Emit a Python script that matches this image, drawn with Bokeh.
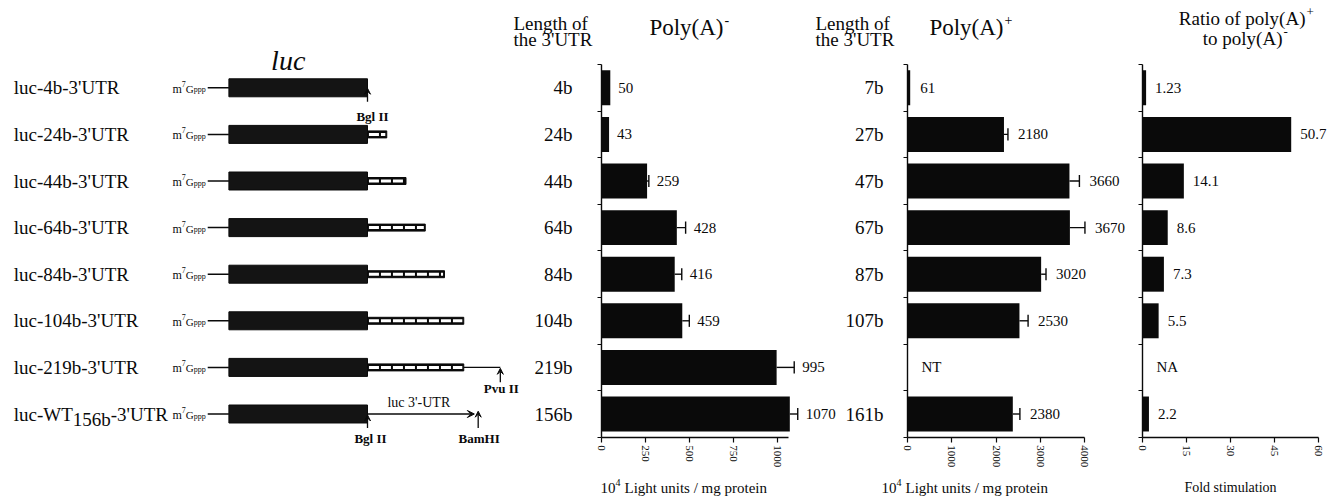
import math
from bokeh.plotting import figure
from bokeh.models import Range1d, LinearAxis, FixedTicker, ColumnDataSource, Arrow, VeeHead
from bokeh.core.properties import value
from bokeh.embed import file_html
from bokeh.resources import INLINE

# ---------------- data ----------------
construct_names = ["luc-4b-3'UTR", "luc-24b-3'UTR", "luc-44b-3'UTR", "luc-64b-3'UTR",
                   "luc-84b-3'UTR", "luc-104b-3'UTR", "luc-219b-3'UTR"]
wt_name_parts = ["luc-WT", "156b", "-3'UTR"]
utr_box_bases = [4, 24, 44, 64, 84, 104, 104]   # schematic 3'UTR box end (bases)
minus_lengths = ["4b", "24b", "44b", "64b", "84b", "104b", "219b", "156b"]
plus_lengths = ["7b", "27b", "47b", "67b", "87b", "107b", "", "161b"]
polyA_minus = [50, 43, 259, 428, 416, 459, 995, 1070]
polyA_minus_err = [0, 0, 10, 50, 40, 40, 100, 45]
polyA_plus = [61, 2180, 3660, 3670, 3020, 2530, None, 2380]
polyA_plus_err = [0, 90, 225, 340, 110, 195, None, 160]
ratio = [1.23, 50.7, 14.1, 8.6, 7.3, 5.5, None, 2.2]
ratio_labels = ["1.23", "50.7", "14.1", "8.6", "7.3", "5.5", "NA", "2.2"]
minus_ticks = [0, 250, 500, 750, 1000]
plus_ticks = [0, 1000, 2000, 3000, 4000]
ratio_ticks = [0, 15, 30, 45, 60]

# ---------------- layout ----------------
W, H, M = 1330, 496, 0
ROW0, ROWH = 64.0, 46.6
NROW = 8
FONT = "Liberation Serif"
INK = "#0a0a0a"


def rows(page_y):
    return (page_y - ROW0) / ROWH


def xrange_for(origin, ppu):
    return Range1d(start=(M - origin) / ppu, end=(M + W - origin) / ppu)


PANELS = {"diag": (363.15, 0.9625), "minus": (601.0, 0.176),
          "plus": (907.0, 0.04425), "ratio": (1142.0, 2.933)}

p = figure(width=W, height=H, x_range=xrange_for(*PANELS["diag"]),
           y_range=Range1d(start=rows(M + H), end=rows(M)),
           output_backend="svg", toolbar_location=None,
           x_axis_location=None, y_axis_location=None, min_border=0,
           outline_line_color=None, background_fill_color="white",
           border_fill_color="white")
p.extra_x_ranges = {k: xrange_for(*PANELS[k]) for k in ("minus", "plus", "ratio")}
p.xgrid.visible = False
p.ygrid.visible = False

yc = [i + 0.5 for i in range(NROW)]


def txt(x, y, s, size, xr="default", align="left", xoff=0, style="normal", baseline="middle"):
    n = max(len(v) if isinstance(v, list) else 1 for v in (x, y, s))
    xs = x if isinstance(x, list) and len(x) == n else [x[0] if isinstance(x, list) else x] * n
    ys = y if isinstance(y, list) and len(y) == n else [y[0] if isinstance(y, list) else y] * n
    ss = s if isinstance(s, list) and len(s) == n else [s[0] if isinstance(s, list) else s] * n
    p.text(x=xs, y=ys, text=ss, x_range_name=xr, text_font=value(FONT),
           text_font_size=f"{size}px", text_align=align, text_baseline=baseline,
           x_offset=xoff, text_font_style=style, text_color=INK)


def add_axes(name, ticks, xmax):
    xa = LinearAxis(x_range_name=name, fixed_location=NROW, bounds=(0, xmax),
                    ticker=FixedTicker(ticks=ticks), major_tick_in=0, major_tick_out=5,
                    minor_tick_line_color=None, axis_line_width=1.4, axis_line_color=INK,
                    major_tick_line_width=1.2, major_tick_line_color=INK,
                    major_label_orientation=-math.pi / 2, major_label_text_font=FONT,
                    major_label_text_font_size="11px", major_label_standoff=3,
                    major_label_text_color=INK)
    p.add_layout(xa, "below")
    ya = LinearAxis(x_range_name=name, fixed_location=0, bounds=(0, NROW),
                    ticker=FixedTicker(ticks=list(range(NROW + 1))), major_tick_in=0,
                    major_tick_out=4, minor_tick_line_color=None, axis_line_width=1.4,
                    axis_line_color=INK, major_tick_line_width=1.2, major_tick_line_color=INK,
                    major_label_overrides={i: "" for i in range(NROW + 1)})
    p.add_layout(ya, "left")


def add_bars(name, vals, errs, labels, lab_off):
    keep = [i for i, v in enumerate(vals) if v is not None]
    src = ColumnDataSource(dict(
        y=[yc[i] for i in keep], v=[vals[i] for i in keep],
        cap=[vals[i] + (errs[i] or 0) for i in keep],
        lo=[yc[i] - 0.13 for i in keep], hi=[yc[i] + 0.13 for i in keep],
        lab=[labels[i] for i in keep]))
    p.hbar(y="y", left=0, right="v", height=0.75, source=src, x_range_name=name,
           fill_color=INK, line_color=None)
    if any(errs[i] for i in keep):
        esrc = ColumnDataSource({k: [c for c, i in zip(src.data[k], keep) if errs[i]]
                                 for k in ("y", "v", "cap", "lo", "hi")})
        p.segment(x0="v", y0="y", x1="cap", y1="y", source=esrc, x_range_name=name,
                  line_color=INK, line_width=1.4)
        p.segment(x0="cap", y0="lo", x1="cap", y1="hi", source=esrc, x_range_name=name,
                  line_color=INK, line_width=1.4)
    p.text(x="cap", y="y", text="lab", source=src, x_range_name=name,
           text_font=value(FONT), text_font_size="15px", text_baseline="middle",
           x_offset=lab_off, text_color=INK)


# ---------------- diagram ----------------
CDS_START, BGL_SITE, CAP_START = -140, 4, -162
PVU_SITE, BAM_SITE = 142, 119

txt((CDS_START + BGL_SITE) / 2, rows(60), "luc", 28, align="center", xoff=-10, style="italic")

txt(CAP_START, yc[:7], construct_names, 19, xoff=-194)
txt(CAP_START, yc[7], wt_name_parts[0], 19, xoff=-194)
txt(CAP_START, yc[7] + 5 / ROWH, wt_name_parts[1], 19, xoff=-194 + 59)
txt(CAP_START, yc[7], wt_name_parts[2], 19, xoff=-194 + 97)

# m7Gppp cap labels
txt(CAP_START, [y + 1 / ROWH for y in yc], "m", 12, align="right", xoff=-26)
txt(CAP_START, [y - 4 / ROWH for y in yc], "7", 8, align="right", xoff=-22)
txt(CAP_START, [y + 1 / ROWH for y in yc], "G", 11, align="right", xoff=-14)
txt(CAP_START, [y + 2 / ROWH for y in yc], "ppp", 8, align="right", xoff=-2)

p.segment(x0=CAP_START, y0=yc, x1=CDS_START, y1=yc, line_color=INK, line_width=1.5)
p.quad(left=CDS_START, right=BGL_SITE, top=[y - 0.193 for y in yc],
       bottom=[y + 0.193 for y in yc], fill_color="#141414", line_color=INK, line_width=1)

utr_rows = [i for i, L in enumerate(utr_box_bases) if L > BGL_SITE]
p.quad(left=BGL_SITE, right=[utr_box_bases[i] for i in utr_rows],
       top=[yc[i] - 0.075 for i in utr_rows], bottom=[yc[i] + 0.075 for i in utr_rows],
       fill_color=INK, line_color=INK, line_width=1)
p.segment(x0=BGL_SITE + 1.5, y0=[yc[i] for i in utr_rows],
          x1=[utr_box_bases[i] - 1.5 for i in utr_rows], y1=[yc[i] for i in utr_rows],
          line_color="white", line_width=3, line_dash="10 2")

# 219b: line to Pvu II
p.segment(x0=utr_box_bases[6], y0=yc[6], x1=PVU_SITE, y1=yc[6], line_color=INK, line_width=1.2)


def arrow(x0, y0, x1, y1, size=6):
    p.add_layout(Arrow(end=VeeHead(size=size, line_color=INK, fill_color=INK, line_width=1),
                       x_start=x0, y_start=y0, x_end=x1, y_end=y1,
                       line_color=INK, line_width=1.3))


arrow(BGL_SITE, yc[0] + 0.3, BGL_SITE, yc[0] + 0.01)
txt(BGL_SITE, yc[0] + 0.62, "Bgl II", 13, align="center", xoff=5, style="bold")
arrow(PVU_SITE, yc[6] + 0.32, PVU_SITE, yc[6] + 0.02)
txt(PVU_SITE, yc[6] + 0.45, "Pvu II", 13, align="center", xoff=1, style="bold")

arrow(BGL_SITE, yc[7], BAM_SITE - 4, yc[7], size=7)
arrow(BGL_SITE, yc[7] + 0.3, BGL_SITE, yc[7] + 0.02)
arrow(BAM_SITE, yc[7] + 0.3, BAM_SITE, yc[7] - 0.06)
txt((BGL_SITE + BAM_SITE) / 2, yc[7] - 0.25, "luc 3'-UTR", 14, align="center", xoff=-4)
txt(BGL_SITE, yc[7] + 0.53, "Bgl II", 13, align="center", xoff=3, style="bold")
txt(BAM_SITE, yc[7] + 0.53, "BamHI", 13, align="center", xoff=1, style="bold")

# ---------------- Poly(A)- panel ----------------
add_axes("minus", minus_ticks, 1060)
add_bars("minus", polyA_minus, polyA_minus_err, [str(v) for v in polyA_minus], 8)
txt(0, yc, minus_lengths, 19, xr="minus", align="right", xoff=-29)
txt(0, rows(23), "Length of", 19, xr="minus", xoff=-88)
txt(0, rows(39), "the 3'UTR", 19, xr="minus", xoff=-88)
txt(0, rows(27), "Poly(A)", 23, xr="minus", align="right", xoff=122)
txt(0, rows(19), "-", 14, xr="minus", xoff=123)
txt(0, rows(487), "10", 15, xr="minus", xoff=-1)
txt(0, rows(482), "4", 10, xr="minus", xoff=14)
txt(0, rows(487), "Light units / mg protein", 15, xr="minus", xoff=23)

# ---------------- Poly(A)+ panel ----------------
add_axes("plus", plus_ticks, 4000)
add_bars("plus", polyA_plus, polyA_plus_err,
         [str(v) if v is not None else "" for v in polyA_plus], 10)
txt(0, yc[6], "NT", 15, xr="plus", xoff=14)
txt(0, yc, plus_lengths, 19, xr="plus", align="right", xoff=-24)
txt(0, rows(23), "Length of", 19, xr="plus", xoff=-92)
txt(0, rows(39), "the 3'UTR", 19, xr="plus", xoff=-92)
txt(0, rows(27), "Poly(A)", 23, xr="plus", align="right", xoff=96)
txt(0, rows(19), "+", 14, xr="plus", xoff=97)
txt(0, rows(487), "10", 15, xr="plus", xoff=-26)
txt(0, rows(482), "4", 10, xr="plus", xoff=-11)
txt(0, rows(487), "Light units / mg protein", 15, xr="plus", xoff=-2)

# ---------------- ratio panel ----------------
add_axes("ratio", ratio_ticks, 60)
add_bars("ratio", ratio, [0] * len(ratio), ratio_labels, 9)
txt(0, yc[6], "NA", 15, xr="ratio", xoff=14)
txt(0, rows(18), "Ratio of poly(A)", 19, xr="ratio", align="right", xoff=163)
txt(0, rows(11), "+", 13, xr="ratio", xoff=164)
txt(0, rows(38), "to poly(A)", 19, xr="ratio", align="right", xoff=140)
txt(0, rows(31), "-", 13, xr="ratio", xoff=141)
txt(30, rows(487), "Fold stimulation", 14, xr="ratio", align="center")

open("out.html", "w").write(file_html(p, INLINE))
